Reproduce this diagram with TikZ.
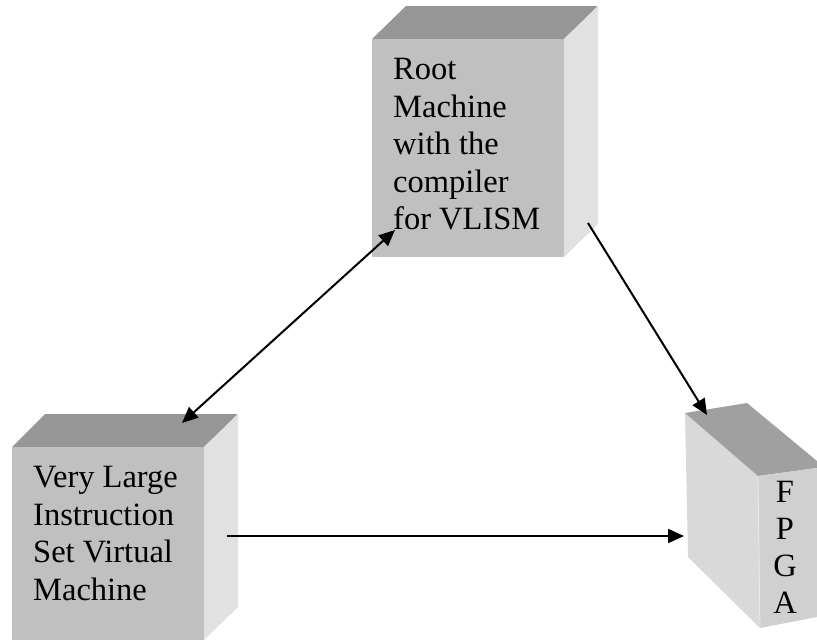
\documentclass[tikz,border=0pt]{standalone}
\usepackage{fontspec}
\setmainfont{Liberation Serif}
\usetikzlibrary{arrows.meta}
\definecolor{frontgrey}{HTML}{C0C0C0}
\definecolor{topgrey}{HTML}{969696}
\definecolor{sidegrey}{HTML}{E1E1E1}
\definecolor{fpgaside}{HTML}{D9D9D9}
\definecolor{fpgatop}{HTML}{A0A0A0}
\definecolor{fpgafront}{HTML}{D0D0D0}
\tikzset{
  front/.style={fill=frontgrey, draw=none, inner sep=0pt, anchor=north west},
  boxtext/.style={font=\fontsize{32.5}{37.5}\selectfont, align=left, inner sep=0pt, anchor=north west},
  tip/.tip={Triangle[length=16pt,width=14pt]},
  link/.style={line width=2pt, -tip},
  biglink/.style={line width=2pt, tip-tip},
}
\begin{document}
\begin{tikzpicture}[x=1pt, y=-1pt]
\useasboundingbox (0,0) rectangle (817,641);
\clip (0,0) rectangle (817,641);

% Root machine block
\fill[topgrey] (372,39) -- (406,6) -- (598,6) -- (564,39) -- cycle;
\fill[sidegrey] (564,39) -- (598,6) -- (598,224) -- (564,257) -- cycle;
\node[front, minimum width=192pt, minimum height=218pt] (root) at (372,39) {};
\node[boxtext] (rootText) at (393,58.5)
  {Root\\Machine\\with the\\compiler\\for VLISM};

% Virtual machine block
\fill[topgrey] (12,447) -- (45,414) -- (238,414) -- (204,447) -- cycle;
\fill[sidegrey] (204,447) -- (238,414) -- (238,607) -- (204,640) -- cycle;
\node[front, minimum width=192pt, minimum height=193pt] (vlism) at (12,447) {};
\node[boxtext] (vlismText) at (33,466.5)
  {Very Large\\Instruction\\Set Virtual\\Machine};

% FPGA block, seen from its side
\fill[fpgaside] (685,413) -- (758,476) -- (760,628) -- (688,557) -- cycle;
\fill[fpgatop] (685,413) -- (747,403) -- (817,461) -- (817,468) -- (758,476) -- cycle;
\fill[fpgafront] (758,476) -- (817,468) -- (817,617) -- (760,628) -- cycle;
\draw[white!92!black, line width=0.8pt] (758,476) -- (760,628);
\node[font=\fontsize{32.5}{37}\selectfont, align=center, inner sep=0pt, anchor=north] (fpga) at (785,481.5)
  {F\\P\\G\\A};

% Connector end points
\coordinate (rootIn) at (395,230);
\coordinate (rootOut) at (588,223);
\coordinate (vlismTop) at (182,423);
\coordinate (vlismOut) at (227,536);
\coordinate (fpgaTop) at (707,415);
\coordinate (fpgaSide) at (684,536);

\draw[biglink] (rootIn) -- (vlismTop);
\draw[link] (rootOut) -- (fpgaTop);
\draw[link] (vlismOut) -- (fpgaSide);
\end{tikzpicture}
\end{document}
